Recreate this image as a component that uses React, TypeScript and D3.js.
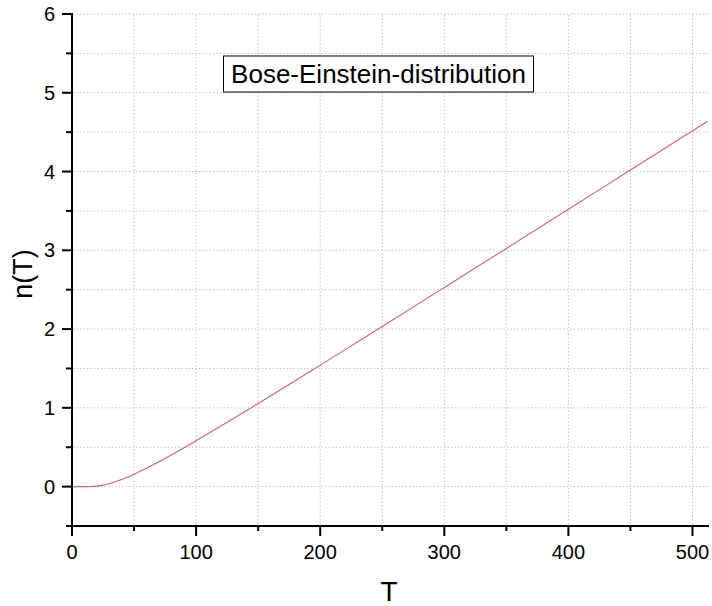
import React from "react";
import * as d3 from "d3";

const tValues = [0, 10, 15, 20, 25, 30, 35, 40, 45, 50, 60, 70, 80, 90, 100, 125, 150, 175, 200, 250, 300, 350, 400, 450, 512];
const nValues = [0, 0.00005, 0.0013, 0.0068, 0.0187, 0.037, 0.061, 0.089, 0.122, 0.157, 0.233, 0.315, 0.402, 0.491, 0.582, 0.816, 1.055, 1.297, 1.542, 2.033, 2.528, 3.024, 3.521, 4.019, 4.636];
const xTicks = [0, 100, 200, 300, 400, 500];
const xMinorTicks = [50, 150, 250, 350, 450];
const yTicks = [0, 1, 2, 3, 4, 5, 6];
const yMinorTicks = [-0.5, 0.5, 1.5, 2.5, 3.5, 4.5, 5.5];
const titleText = "Bose-Einstein-distribution";
const xLabel = "T";
const yLabel = "n(T)";

export default function App() {
  const W = 712, H = 606;
  const x = d3.scaleLinear().domain([0, 512.5]).range([72, 708]);
  const y = d3.scaleLinear().domain([-0.5, 6]).range([526, 14]);
  const pts = tValues.map((t, i) => [t, nValues[i]] as [number, number]);
  const line = d3.line<[number, number]>().x(d => x(d[0])).y(d => y(d[1])).curve(d3.curveMonotoneX);
  const font = "'Liberation Sans', Arial, sans-serif";
  const gridColor = "#c4c4c4";
  const allX = [...xTicks, ...xMinorTicks].filter(v => v > 0);
  const allY = [...yTicks, ...yMinorTicks].filter(v => v > -0.5);
  return (
    <svg width={W} height={H} style={{ position: "absolute", left: 0, top: 0, background: "#fff" }} fontFamily={font}>
      {allX.map(v => (
        <line key={"gx" + v} x1={x(v)} x2={x(v)} y1={15} y2={525} stroke={gridColor} strokeWidth={1} strokeDasharray="1.5,2" />
      ))}
      {allY.map(v => (
        <line key={"gy" + v} x1={73} x2={708} y1={y(v)} y2={y(v)} stroke={gridColor} strokeWidth={1} strokeDasharray="1.5,2" />
      ))}
      <path d={line(pts) || ""} fill="none" stroke="#d0606a" strokeWidth={1.1} />
      <line x1={72} x2={72} y1={13} y2={527} stroke="#000" strokeWidth={2} />
      <line x1={71} x2={709} y1={526} y2={526} stroke="#000" strokeWidth={2} />
      {yTicks.map(v => (
        <g key={"yt" + v}>
          <line x1={62} x2={72} y1={y(v)} y2={y(v)} stroke="#000" strokeWidth={2} />
          <text x={55} y={y(v)} dy="0.35em" textAnchor="end" fontSize={20}>{v}</text>
        </g>
      ))}
      {yMinorTicks.map(v => (
        <line key={"ym" + v} x1={66} x2={72} y1={y(v)} y2={y(v)} stroke="#000" strokeWidth={2} />
      ))}
      {xTicks.map(v => (
        <g key={"xt" + v}>
          <line x1={x(v)} x2={x(v)} y1={526} y2={536} stroke="#000" strokeWidth={2} />
          <text x={x(v)} y={559} textAnchor="middle" fontSize={20}>{v}</text>
        </g>
      ))}
      {xMinorTicks.map(v => (
        <line key={"xm" + v} x1={x(v)} x2={x(v)} y1={526} y2={531} stroke="#000" strokeWidth={2} />
      ))}
      <text x={389} y={601} textAnchor="middle" fontSize={28}>{xLabel}</text>
      <text transform="translate(32,274) rotate(-90)" textAnchor="middle" fontSize={27}>{yLabel}</text>
      <rect x={223.5} y={56} width={310} height={36} fill="#fff" stroke="#000" strokeWidth={1} />
      <text x={378.5} y={83} textAnchor="middle" fontSize={26}>{titleText}</text>
    </svg>
  );
}
